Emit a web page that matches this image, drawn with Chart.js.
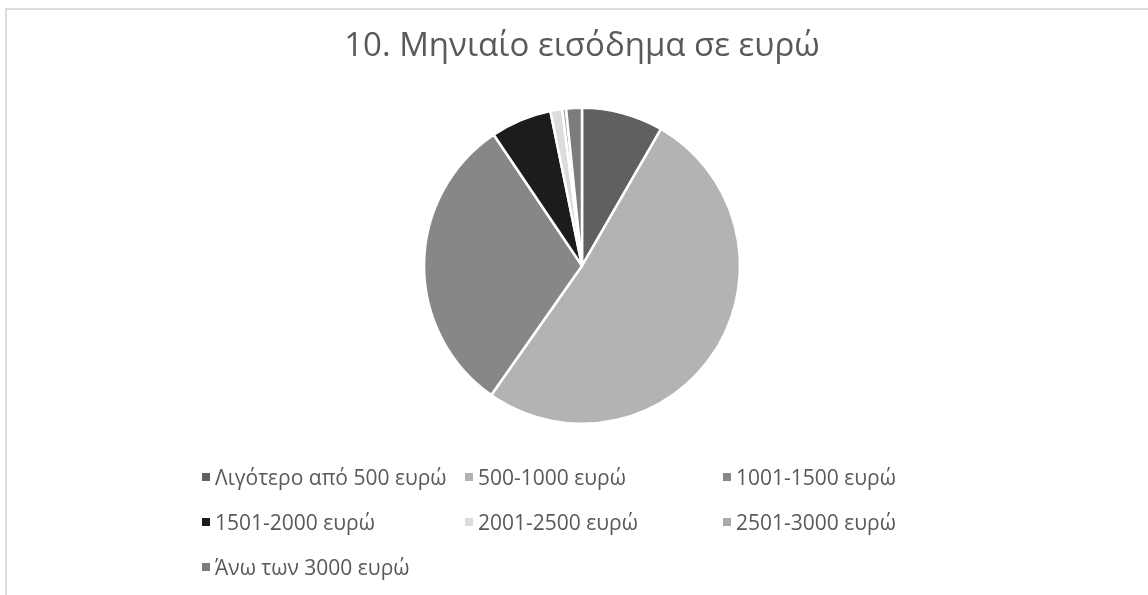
<!DOCTYPE html>
<html lang="el">
<head>
<meta charset="utf-8">
<title>Μηνιαίο εισόδημα</title>
<script src="https://cdn.jsdelivr.net/npm/chart.js@4.4.1/dist/chart.umd.min.js"></script>
<style>
    html, body {
        margin: 0;
        padding: 0;
        background: #fff;
        overflow: hidden;
    }
    #wrap {
        position: relative;
        width: 1148px;
        height: 595px;
    }
    #frame {
        position: absolute;
        left: 5px;
        top: 8px;
        width: 1200px;
        height: 700px;
        border-top: 2px solid #dcdcdc;
        border-left: 2px solid #dcdcdc;
    }
    #grafico-eisodima {
        position: absolute;
        left: 0;
        top: 0;
    }
    #legenda {
        position: absolute;
        left: 202px;
        top: 462px;
        display: grid;
        grid-template-columns: 263px 258px 220px;
        grid-auto-rows: 45px;
        font-family: "Open Sans", sans-serif;
        font-size: 21px;
        color: #595959;
    }
    #legenda .item {
        display: flex;
        align-items: center;
        height: 30px;
        white-space: nowrap;
    }
    #legenda .box {
        width: 8px;
        height: 8px;
        margin-right: 5px;
        flex: none;
    }
</style>
</head>
<body>
<div id="wrap">
    <div id="frame"></div>
    <canvas id="grafico-eisodima" width="1148" height="595"></canvas>
    <div id="legenda"></div>
</div>
<script>
const titlos = '10. Μηνιαίο εισόδημα σε ευρώ';
const katigories = ['Λιγότερο από 500 ευρώ', '500-1000 ευρώ', '1001-1500 ευρώ', '1501-2000 ευρώ',
    '2001-2500 ευρώ', '2501-3000 ευρώ', 'Άνω των 3000 ευρώ'];
const pososta = [8.3, 51.2, 30.7, 6.2, 1.2, 0.4, 1.6];
const xromata = ['#606060', '#b3b3b3', '#878787', '#1c1c1c', '#dcdcdc', '#aaaaaa', '#7c7c7c'];

const ctx = document.getElementById('grafico-eisodima').getContext('2d');
new Chart(ctx, {
    type: 'pie',
    data: {
        labels: katigories,
        datasets: [{
            data: pososta,
            backgroundColor: xromata,
            borderColor: '#ffffff',
            borderWidth: 2.5
        }]
    },
    options: {
        responsive: false,
        animation: false,
        layout: {
            padding: { left: 16, right: 0, top: 0, bottom: 170 }
        },
        plugins: {
            title: {
                display: true,
                text: titlos,
                color: '#595959',
                font: { family: 'Open Sans', size: 33, weight: 'normal' },
                padding: { top: 27, bottom: 40 }
            },
            legend: { display: false },
            tooltip: { enabled: false }
        }
    }
});

// legend laid out in three fixed columns
const legenda = document.getElementById('legenda');
katigories.forEach(function(nom, i) {
    const item = document.createElement('div');
    item.className = 'item';
    const box = document.createElement('span');
    box.className = 'box';
    box.style.background = xromata[i];
    const txt = document.createElement('span');
    txt.textContent = nom;
    item.appendChild(box);
    item.appendChild(txt);
    legenda.appendChild(item);
});
</script>
</body>
</html>
